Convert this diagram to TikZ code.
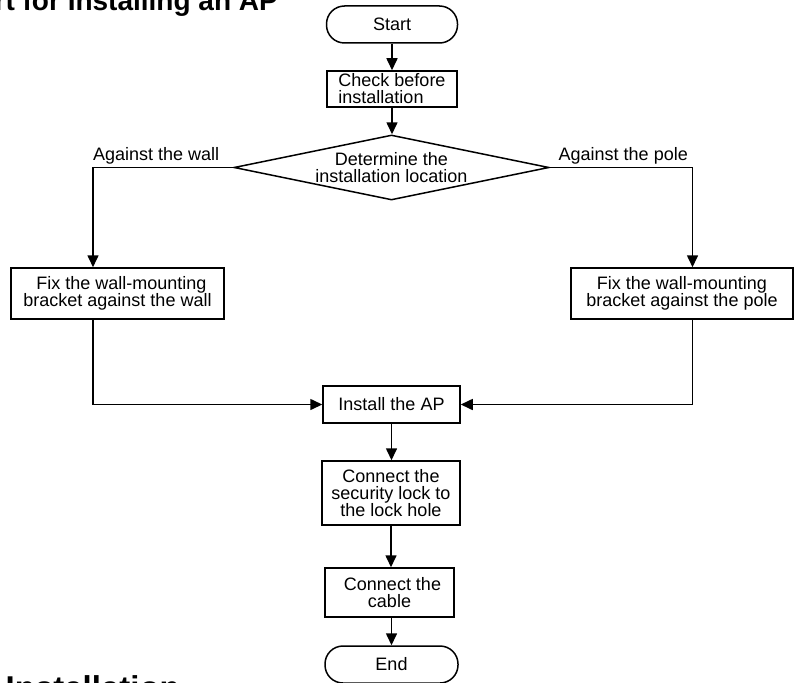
\documentclass[tikz,border=0pt]{standalone}
\usepackage{fontspec}
\setmainfont{Liberation Sans}
\usetikzlibrary{shapes.geometric,arrows.meta}
\begin{document}
\begin{tikzpicture}[x=1pt,y=-1pt,
  every node/.style={font=\fontsize{18}{17}\selectfont},
  proc/.style={draw, line width=1.5pt, inner sep=0pt, align=center},
  term/.style={draw, line width=1.5pt, rounded corners=18pt, inner sep=0pt, minimum width=131pt, minimum height=37pt},
  arr/.style={line width=1.6pt, -{Triangle[length=12pt,width=11pt]}},
  head/.style={font=\fontsize{28}{30}\selectfont\bfseries, inner sep=0pt},
  lbl/.style={inner sep=0pt}
]
\useasboundingbox (0,0) rectangle (794,682);
\clip (0,0) rectangle (794,682);

% headings (clipped by the page edge)
\node[head, anchor=base east] (title) at (278,10.5) {Flowchart for Installing an AP};
\node[head, font=\fontsize{33}{35}\selectfont\bfseries, anchor=base west] (sect) at (5.5,699.5) {Installation};

% nodes
\node[term] (start) at (392,24.5) {Start};
\node[proc, align=left, minimum width=130pt, minimum height=36pt] (check) at (392,89) {Check before\\installation};
\node[draw, line width=1.5pt, shape=diamond, aspect=4.85, inner sep=0pt,
      minimum width=315pt, minimum height=65pt, align=center] (dia) at (391.5,167.5)
      {Determine the\\installation location};
\node[proc, minimum width=213pt, minimum height=51pt] (wallbox) at (117.5,293.5)
      {\hspace*{8pt}Fix the wall-mounting\\bracket against the wall};
\node[proc, minimum width=222pt, minimum height=51pt] (polebox) at (682,293.5)
      {Fix the wall-mounting\\bracket against the pole};
\node[proc, minimum width=137pt, minimum height=37pt] (install) at (391.5,404.5) {Install the AP};
\node[proc, minimum width=138pt, minimum height=64pt] (lock) at (391,493)
      {Connect the\\security lock to\\the lock hole};
\node[proc, minimum width=129pt, minimum height=49pt] (cable) at (389.5,592.5)
      {\hspace*{6pt}Connect the\\cable};
\node[term, minimum width=133pt] (end) at (391.5,664.5) {End};

% branch labels
\node[lbl, anchor=base west] (lwall) at (93,160) {Against the wall};
\node[lbl, anchor=base east] (lpole) at (688,160) {Against the pole};

\coordinate (wallX) at (93,0);
\coordinate (poleX) at (692.5,0);

% connectors
\draw[arr] (start.south) -- (check.north);
\draw[arr] (check.south) -- (check.south |- dia.north);
\draw[arr] (dia.west) -| (wallbox.north -| wallX);
\draw[arr] (dia.east) -| (polebox.north -| poleX);
\draw[arr] (wallbox.south -| wallX) |- (install.west);
\draw[arr] (polebox.south -| poleX) |- (install.east);
\draw[arr] (install.south) -- (install.south |- lock.north);
\draw[arr] (lock.south) -- (lock.south |- cable.north);
\draw[arr] (cable.south -| end.north) -- (end.north);
\end{tikzpicture}
\end{document}
